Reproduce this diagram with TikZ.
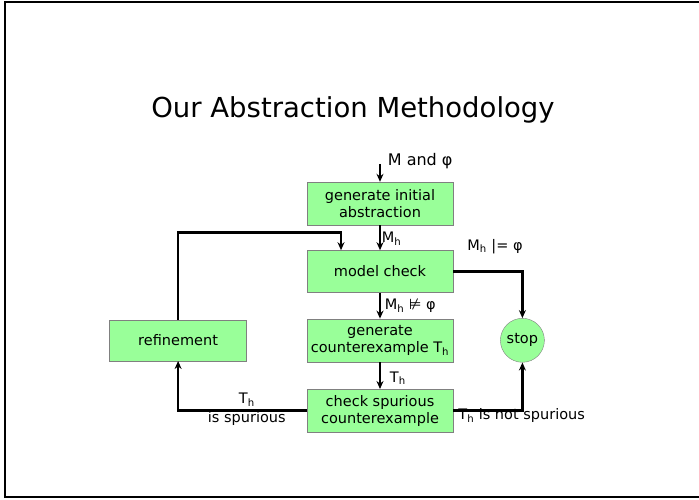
\documentclass[tikz,border=0pt]{standalone}
\usepackage{fontspec}
\setmainfont{DejaVu Sans}
\usepackage{xcolor}
\usepackage{tikz}
\usetikzlibrary{arrows.meta,positioning,calc}

\definecolor{boxgreen}{HTML}{99FF99}

\begin{document}
\begin{tikzpicture}[
  x=1pt,y=-1pt,
  font=\fontsize{14.5}{17}\selectfont,
  node distance=25pt,
  stepbox/.style={draw=gray,fill=boxgreen,minimum width=146pt,minimum height=43pt,align=center,inner sep=1pt},
  stopnode/.style={draw=gray,circle,fill=boxgreen,minimum size=44pt,inner sep=0pt},
  arrow/.style={-{Stealth[length=8pt,width=7pt]},line width=1.8pt},
  loop/.style={-{Stealth[length=8pt,width=7pt]},line width=2.6pt},
  lbl/.style={inner sep=1pt},
]
\useasboundingbox (0,0) rectangle (699,499);
\draw[line width=2pt] (710,2) -- (5,2) -- (5,497) -- (710,497);

\node[font=\fontsize{27.5}{32}\selectfont] (title) at (353,110) {Our Abstraction Methodology};

% main column
\node[stepbox] (init) at (380,203.5) {generate initial\\abstraction};
\node[stepbox,minimum height=42pt] (mc) [below=25pt of init] {model check};
\node[stepbox] (cex) [below=26pt of mc] {generate\\counterexample T\textsubscript{h}};
\node[stepbox] (spur) [below=27pt of cex] {check spurious\\counterexample};
\node[stepbox,minimum width=137pt,minimum height=41pt] (ref) [left=60pt of cex] {refinement};
\node[stopnode] (stop) [right=47pt of cex] {stop};
\coordinate[above=18pt of init] (in);

\draw[arrow] (in) node[lbl,anchor=west,xshift=6pt,yshift=3pt,font=\fontsize{16}{18}\selectfont] {M and φ} -- (init);
\draw[arrow] (init) -- node[lbl,right,pos=0.55] {M\textsubscript{h}} (mc);
\draw[arrow] (mc) -- node[lbl,right=3pt] {M\textsubscript{h} ⊭ φ} (cex);
\draw[arrow] (cex) -- node[lbl,right=8pt,pos=0.6] {T\textsubscript{h}} (spur);

\draw[loop] (mc.east) -| (stop.north);
\node[lbl,anchor=west] (sat) at ($(mc.north east)+(13,-4)$) {M\textsubscript{h} |= φ};
\draw[loop] (spur.east) -| (stop.south);
\node[lbl,anchor=west] (notsp) at ($(spur.east)+(4,5)$) {T\textsubscript{h} is not spurious};
\draw[loop] (spur.west) -| (ref.south);
\node[lbl,align=center,font=\fontsize{14.5}{19}\selectfont] (issp) at ($(spur.west)+(-60,-1)$) {T\textsubscript{h}\\is spurious};
\draw[loop] (ref.north) |- ([xshift=-39pt,yshift=18pt]mc.north) -- ([xshift=-39pt]mc.north);
\end{tikzpicture}
\end{document}
